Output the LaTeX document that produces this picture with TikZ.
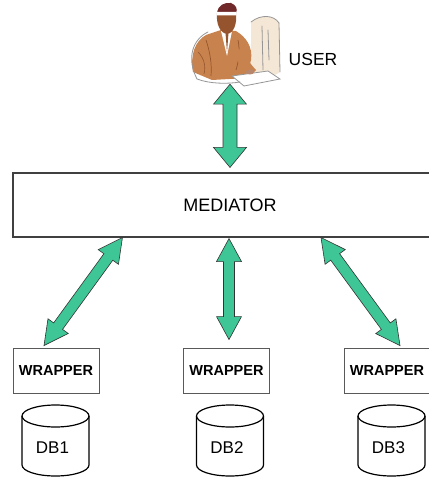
\documentclass[tikz,border=0pt]{standalone}
\usepackage{fontspec}
\setmainfont{Liberation Sans}
\usetikzlibrary{calc}

\definecolor{arrowgreen}{RGB}{62,198,150}
\definecolor{jacket}{RGB}{200,130,78}
\definecolor{jacketdark}{RGB}{150,86,44}
\definecolor{skin}{RGB}{150,84,46}
\definecolor{hair}{RGB}{112,40,40}
\definecolor{monitor}{RGB}{245,231,214}
\definecolor{sketchgray}{RGB}{150,150,150}

% double-headed block arrow between two points:
% #1 start, #2 end, #3 head length, #4 half head width, #5 half shaft width
\newcommand\blockarrow[5]{%
  \path (#1) coordinate (ba-s) (#2) coordinate (ba-e);
  \path ($(ba-s)!#3!(ba-e)$) coordinate (ba-h0)
        ($(ba-e)!#3!(ba-s)$) coordinate (ba-h1);
  \draw[arrowbody] (ba-s)
    -- ($(ba-h0)!#4!90:(ba-e)$) -- ($(ba-h0)!#5!90:(ba-e)$)
    -- ($(ba-h1)!#5!-90:(ba-s)$) -- ($(ba-h1)!#4!-90:(ba-s)$)
    -- (ba-e)
    -- ($(ba-h1)!#4!90:(ba-s)$) -- ($(ba-h1)!#5!90:(ba-s)$)
    -- ($(ba-h0)!#5!-90:(ba-e)$) -- ($(ba-h0)!#4!-90:(ba-e)$)
    -- cycle;
}

\begin{document}
\begin{tikzpicture}[x=1pt,y=-1pt,
  arrowbody/.style={fill=arrowgreen,draw=black!80,line width=0.6pt,line join=miter},
  medbox/.style={draw=black!75,line width=1.1pt,minimum width=434pt,minimum height=64pt,
    inner sep=0pt,font=\fontsize{18}{20}\selectfont},
  wrapbox/.style={draw=black!65,line width=0.9pt,minimum width=86pt,minimum height=45pt,
    inner sep=0pt,font=\fontsize{14.5}{16}\selectfont\bfseries},
  dbline/.style={draw=black,line width=1.2pt},
  dblabel/.style={font=\fontsize{17}{19}\selectfont},
  sketch/.style={draw=sketchgray,line width=0.8pt,line cap=round},
]
\useasboundingbox (0,0) rectangle (428,478);

% ---- user at the workstation ----
\node[minimum width=90pt,minimum height=82pt,inner sep=0pt] (userpic) at (230,42) {};
% monitor
\fill[monitor] (251,22) .. controls (261,14) and (274,15) .. (279,23) -- (280,72)
  .. controls (272,78) and (260,79) .. (251,74) -- cycle;
\draw[sketch] (251,22) .. controls (261,14) and (274,15) .. (279,23);
\draw[sketch] (279,23) -- (280,72);
\draw[sketch] (262,26) -- (263,70);
\draw[sketch] (268,30) -- (269,60);
% body
\fill[jacket] (221,30) -- (206,35) .. controls (195,41) and (190,55) .. (193,72)
  -- (212,80) -- (247,78) -- (251,60) .. controls (253,47) and (246,37) .. (236,31) -- cycle;
\draw[jacketdark,line width=0.7pt] (206,40) .. controls (210,52) and (212,64) .. (211,76);
\draw[jacketdark,line width=0.7pt] (238,40) .. controls (240,50) and (239,60) .. (236,70);
\draw[jacketdark,line width=0.6pt] (198,52) .. controls (204,58) and (206,66) .. (204,74);
% shirt and tie
\fill[white] (221,31) -- (232,31) -- (227,56) -- cycle;
\fill[jacketdark] (225.5,33) -- (228.5,33) -- (227,52) -- cycle;
% head
\fill[skin] (217,13) .. controls (216,24) and (220,33) .. (227,34)
  .. controls (234,33) and (237,24) .. (236,13) -- cycle;
\fill[hair] (217,13) .. controls (218,5) and (225,2) .. (231,3)
  .. controls (236,5) and (238,9) .. (236,13) -- cycle;
\fill[white] (216.5,12) -- (236.5,12) -- (236.3,15.5) -- (216.7,15.5) -- cycle;
% arm and hand
\fill[jacket] (238,48) .. controls (246,56) and (250,64) .. (256,70) -- (250,76)
  .. controls (244,70) and (238,62) .. (234,56) -- cycle;
% keyboard
\fill[white] (232,76) -- (268,71) -- (280,79) -- (244,86) -- cycle;
\draw[sketch] (232,76) -- (268,71) -- (280,79) -- (244,86) -- cycle;
\fill[skin!70] (250,72) ellipse[x radius=4pt,y radius=2.5pt];
% sketch outline
\draw[sketch] (208,32) .. controls (193,39) and (186,58) .. (197,79);
\draw[sketch] (197,79) .. controls (210,84) and (228,84) .. (240,82);

\node[font=\fontsize{17.5}{19}\selectfont] (user) at (313,59) {USER};

% ---- mediator ----
\node[medbox] (med) at (230,205) {MEDIATOR};

% ---- wrappers ----
\node[wrapbox] (w1) at (56,370.5) {WRAPPER};
\node[wrapbox] (w2) at (226.5,370.5) {WRAPPER};
\node[wrapbox] (w3) at (387,370.5) {WRAPPER};

% ---- databases ----
\foreach \cx/\name/\lbl in {55.5/db1/DB1, 230/db2/DB2, 391.5/db3/DB3}{
  \draw[dbline] (\cx-33.5,416) -- (\cx-33.5,465)
    arc[start angle=180,end angle=360,x radius=33.5pt,y radius=11pt]
    -- (\cx+33.5,416);
  \draw[dbline] (\cx,416) ellipse[x radius=33.5pt,y radius=11pt];
  \node[dblabel] (\name) at (\cx-3,448) {\lbl};
}

% ---- connectors ----
\blockarrow{[yshift=-1pt]userpic.south}{[yshift=5pt]med.north}{20pt}{16.5pt}{7pt}
\blockarrow{[xshift=-1pt,yshift=-1pt]med.south}{[xshift=2.5pt,yshift=8pt]w2.north}{23pt}{12.5pt}{5.5pt}
\blockarrow{[xshift=110pt]med.south west}{[xshift=-12pt,yshift=2pt]w1.north}{24pt}{12.5pt}{5.5pt}
\blockarrow{[xshift=91pt]med.south}{[xshift=13pt,yshift=2pt]w3.north}{24pt}{12.5pt}{5.5pt}
\end{tikzpicture}
\end{document}
